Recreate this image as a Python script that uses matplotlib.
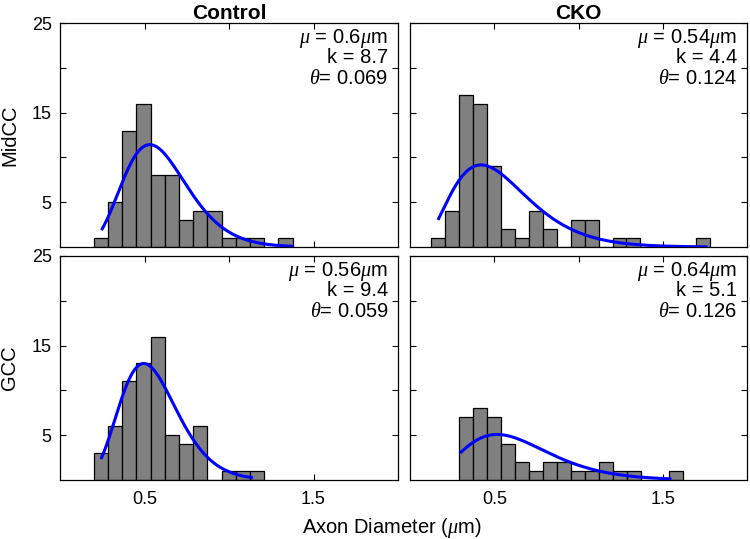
import math
import numpy as np
import matplotlib
matplotlib.use("Agg")
import matplotlib.pyplot as plt

plt.rcParams['font.family'] = ['Liberation Sans', 'DejaVu Sans']
plt.rcParams['mathtext.fontset'] = 'custom'
plt.rcParams['mathtext.rm'] = 'Liberation Sans'
plt.rcParams['mathtext.it'] = 'Liberation Serif:italic'

# histogram counts per panel
ctrl_mid_counts = [1, 5, 13, 16, 8, 8, 3, 4, 4, 1, 1, 1, 0, 1]
cko_mid_counts = [1, 4, 17, 16, 9, 2, 1, 4, 2, 0, 3, 3, 0, 1, 1, 0, 0, 0, 0, 1]
ctrl_gcc_counts = [3, 6, 11, 13, 16, 5, 4, 6, 0, 1, 1, 1]
cko_gcc_counts = [7, 8, 7, 4, 2, 1, 2, 2, 1, 1, 2, 1, 1, 0, 0, 1]

# first bin left edge and bin width
ctrl_mid_bins = (0.2, 0.084)
cko_mid_bins = (0.1255, 0.0828)
ctrl_gcc_bins = (0.2, 0.084)
cko_gcc_bins = (0.292, 0.0829)

# gamma fit parameters: mu, k, theta
ctrl_mid_fit = (0.6, 8.7, 0.069)
cko_mid_fit = (0.54, 4.4, 0.124)
ctrl_gcc_fit = (0.56, 9.4, 0.059)
cko_gcc_fit = (0.64, 5.1, 0.126)

# x range of the drawn fit curve
ctrl_mid_span = (0.25, 1.375)
cko_mid_span = (0.17, 1.755)
ctrl_gcc_span = (0.246, 1.133)
cko_gcc_span = (0.304, 1.543)

mu_txt = ['0.6', '0.54', '0.56', '0.64']
k_txt = ['8.7', '4.4', '9.4', '5.1']
th_txt = ['0.069', '0.124', '0.059', '0.126']


def gamma_pdf(x, k, th):
    return np.exp((k - 1) * np.log(x) - x / th - math.lgamma(k) - k * math.log(th))


panels = [
    (ctrl_mid_counts, ctrl_mid_bins, ctrl_mid_fit, ctrl_mid_span),
    (cko_mid_counts, cko_mid_bins, cko_mid_fit, cko_mid_span),
    (ctrl_gcc_counts, ctrl_gcc_bins, ctrl_gcc_fit, ctrl_gcc_span),
    (cko_gcc_counts, cko_gcc_bins, cko_gcc_fit, cko_gcc_span),
]

fig = plt.figure(figsize=(7.5, 5.39), dpi=100)
rects = [
    [0.08, 0.5417, 0.4507, 0.4156],
    [0.5467, 0.5417, 0.4493, 0.4156],
    [0.08, 0.1095, 0.4507, 0.4156],
    [0.5467, 0.1095, 0.4493, 0.4156],
]

axes = []
for i, (counts, bins, fit, span) in enumerate(panels):
    ax = fig.add_axes(rects[i])
    axes.append(ax)
    left, w = bins
    lefts = left + w * np.arange(len(counts))
    ax.bar(lefts, counts, width=w, align='edge', color='#808080',
           edgecolor='black', linewidth=0.9, zorder=2)
    mu, k, th = fit
    n = sum(counts)
    xs = np.linspace(span[0], span[1], 200)
    ax.plot(xs, gamma_pdf(xs, k, th) * n * w, color='#0000ff', lw=2.2, zorder=3)

    ax.set_xlim(0, 2)
    ax.set_ylim(0, 25)
    ax.set_xticks([0.5, 1.0, 1.5])
    ax.set_yticks([5, 10, 15, 20, 25])
    if i >= 2:
        ax.set_xticklabels(['0.5', '', '1.5'])
    else:
        ax.set_xticklabels([])
    if i % 2 == 0:
        ax.set_yticklabels(['5', '', '15', '', '25'])
    else:
        ax.set_yticklabels([])
    ax.tick_params(direction='in', length=4, width=0.8, top=True, right=True,
                   labelsize=13)
    ax.tick_params(axis='x', pad=8)
    ax.tick_params(axis='y', pad=6)
    for s in ax.spines.values():
        s.set_linewidth(0.9)

    ax.text(0.97, 0.911, r'$\mu$ = ' + mu_txt[i] + r'$\mu$m', transform=ax.transAxes,
            ha='right', va='baseline', fontsize=14.5)
    ax.text(0.97, 0.821, 'k = ' + k_txt[i], transform=ax.transAxes,
            ha='right', va='baseline', fontsize=14.5)
    ax.text(0.97, 0.728, r'$\theta$= ' + th_txt[i], transform=ax.transAxes,
            ha='right', va='baseline', fontsize=14.5)

axes[0].set_title('Control', fontsize=15, fontweight='bold', pad=3)
axes[1].set_title('CKO', fontsize=15, fontweight='bold', pad=3)
axes[0].set_ylabel('MidCC', fontsize=14.5, labelpad=9)
axes[2].set_ylabel('GCC', fontsize=14.5, labelpad=9)
fig.text(0.522, 0.011, r'Axon Diameter ($\mu$m)', ha='center', va='baseline', fontsize=14.5)

fig.savefig('out.png', dpi=100)
